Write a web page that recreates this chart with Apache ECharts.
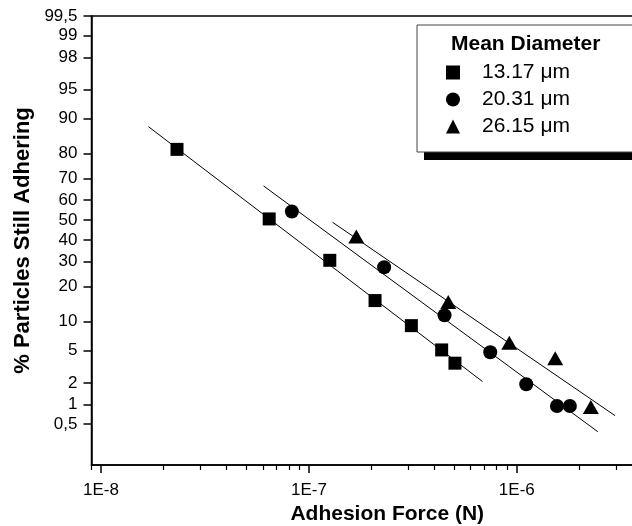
<!DOCTYPE html>
<html><head><meta charset="utf-8">
<script src="https://cdn.jsdelivr.net/npm/echarts@6/dist/echarts.min.js"></script>
<style>html,body{margin:0;padding:0;background:#fff}#c{width:632px;height:526px}</style>
</head><body><div id="c"></div>
<script>
// ---- data ----
const seriesNames = ['13.17 \u03bcm', '20.31 \u03bcm', '26.15 \u03bcm'];
const sqForce = [2.32e-8, 6.44e-8, 1.26e-7, 2.08e-7, 3.11e-7, 4.35e-7, 5.04e-7];
const sqPct   = [81.4, 50.6, 30.6, 15.5, 9.15, 5.07, 3.55];
const ciForce = [8.28e-8, 2.30e-7, 4.49e-7, 7.45e-7, 1.11e-6, 1.56e-6, 1.80e-6];
const ciPct   = [54.3, 27.6, 11.5, 4.77, 1.92, 0.95, 0.95];
const trForce = [1.69e-7, 4.68e-7, 9.20e-7, 1.53e-6, 2.27e-6];
const trPct   = [41.8, 15.1, 6.1, 4.07, 0.92];
// fitted lines (end points)
const sqFitForce = [1.69e-8, 6.84e-7];
const sqFitPct   = [88.1, 2.08];
const ciFitForce = [6.05e-8, 2.45e-6];
const ciFitPct   = [66.7, 0.38];
const trFitForce = [1.30e-7, 2.97e-6];
const trFitPct   = [48.9, 0.68];
// axis ticks
const yTickPct    = [0.5, 1, 2, 5, 10, 20, 30, 40, 50, 60, 70, 80, 90, 95, 98, 99, 99.5];
const yTickLabels = ['0,5','1','2','5','10','20','30','40','50','60','70','80','90','95','98','99','99,5'];
const yRangePct   = [0.1, 99.5];
const xMajorExp   = [-8, -7, -6];
const xMinorMult  = [2, 3, 4, 5, 6, 7, 8, 9];
const xRange      = [9e-9, 6.3e-6];

// ---- scales ----
function probit(p) {
  const a=[-3.969683028665376e+01,2.209460984245205e+02,-2.759285104469687e+02,1.383577518672690e+02,-3.066479806614716e+01,2.506628277459239e+00];
  const b=[-5.447609879822406e+01,1.615858368580409e+02,-1.556989798598866e+02,6.680131188771972e+01,-1.328068155288572e+01];
  const c=[-7.784894002430293e-03,-3.223964580411365e-01,-2.400758277161838e+00,-2.549732539343734e+00,4.374664141464968e+00,2.938163982698783e+00];
  const d=[7.784695709041462e-03,3.224671290700398e-01,2.445134137142996e+00,3.754408661907416e+00];
  const pl=0.02425, ph=1-pl; let q,r;
  if(p<pl){q=Math.sqrt(-2*Math.log(p));return (((((c[0]*q+c[1])*q+c[2])*q+c[3])*q+c[4])*q+c[5])/((((d[0]*q+d[1])*q+d[2])*q+d[3])*q+1);}
  if(p<=ph){q=p-0.5;r=q*q;return (((((a[0]*r+a[1])*r+a[2])*r+a[3])*r+a[4])*r+a[5])*q/(((((b[0]*r+b[1])*r+b[2])*r+b[3])*r+b[4])*r+1);}
  q=Math.sqrt(-2*Math.log(1-p));return -(((((c[0]*q+c[1])*q+c[2])*q+c[3])*q+c[4])*q+c[5])/((((d[0]*q+d[1])*q+d[2])*q+d[3])*q+1);
}
const py = pct => probit(pct / 100);
const lx = v => Math.log10(v);
const pts = (xs, ps) => xs.map((x, i) => [lx(x), py(ps[i])]);

const yTickVals = yTickPct.map(py);
const xMinorVals = [];
[-9, -8, -7, -6].forEach(e => xMinorMult.forEach(m => xMinorVals.push(lx(m * Math.pow(10, e)))));

const FONT = 'Liberation Sans, Arial, sans-serif';
const chart = echarts.init(document.getElementById('c'), null, {renderer: 'canvas'});
const xMin = lx(xRange[0]) - 0.00005, xMax = lx(xRange[1]);

const scatterBase = {type: 'scatter', itemStyle: {color: '#000', opacity: 1}, symbolKeepAspect: true, z: 5};
const lineBase = {type: 'line', showSymbol: false, symbol: 'none', silent: true,
  lineStyle: {color: '#000', width: 1}, itemStyle: {color: '#000'}, z: 3};

chart.setOption({
  animation: false,
  backgroundColor: '#fff',
  grid: {left: 91.5, top: 16, bottom: 61, right: -51, show: true, containLabel: false,
    outerBoundsMode: 'none',
    borderColor: '#000', borderWidth: 1.5, backgroundColor: 'transparent'},
  graphic: [{type: 'rect', z: 1, silent: true,
    shape: {x: 424, y: 33, width: 300, height: 127}, style: {fill: '#000'}}],
  title: {text: 'Mean Diameter', left: 451, top: 34, padding: 0,
    textStyle: {fontFamily: FONT, fontWeight: 'bold', fontSize: 21, color: '#000'}, z: 20},
  legend: {
    data: seriesNames, orient: 'vertical', left: 417, top: 25,
    padding: [34, 200, 12, 29], itemGap: 0, itemWidth: 14, itemHeight: 14,
    symbolKeepAspect: true,
    backgroundColor: '#fff', borderColor: '#444', borderWidth: 1,
    textStyle: {fontFamily: FONT, fontSize: 21, color: '#000', lineHeight: 27, padding: [0, 0, 0, 17]},
    itemStyle: {color: '#000'}, selectedMode: false, z: 10
  },
  xAxis: [{
    type: 'value', position: 'bottom', min: xMin, max: xMax,
    axisLine: {show: true, onZero: false, lineStyle: {color: '#000', width: 1.5}},
    axisTick: {show: true, inside: false, length: 8, customValues: xMajorExp, lineStyle: {color: '#000', width: 1.5}},
    axisLabel: {customValues: xMajorExp, margin: 17, fontFamily: FONT, fontSize: 17, color: '#000',
      formatter: v => '1E' + Math.round(v)},
    splitLine: {show: false},
    name: 'Adhesion Force (N)', nameLocation: 'middle', nameGap: 38,
    nameTextStyle: {fontFamily: FONT, fontWeight: 'bold', fontSize: 21, color: '#000'}
  }, {
    type: 'value', position: 'bottom', min: xMin, max: xMax, offset: 0,
    axisLine: {show: false, onZero: false},
    axisTick: {show: true, inside: false, length: 5, customValues: xMinorVals, lineStyle: {color: '#000', width: 1.2}},
    axisLabel: {show: false}, splitLine: {show: false}
  }],
  yAxis: {
    type: 'value', min: py(yRangePct[0]), max: py(yRangePct[1]),
    axisLine: {show: true, onZero: false, lineStyle: {color: '#000', width: 1.5}},
    axisTick: {show: true, inside: false, length: 8, customValues: yTickVals, lineStyle: {color: '#000', width: 1.5}},
    axisLabel: {customValues: yTickVals, margin: 14, fontFamily: FONT, fontSize: 17, color: '#000',
      formatter: v => {
        let best = 0;
        yTickVals.forEach((t, i) => { if (Math.abs(t - v) < Math.abs(yTickVals[best] - v)) best = i; });
        return yTickLabels[best];
      }},
    splitLine: {show: false},
    name: '% Particles Still Adhering', nameLocation: 'middle', nameGap: 55,
    nameTextStyle: {fontFamily: FONT, fontWeight: 'bold', fontSize: 22, color: '#000'}
  },
  series: [
    Object.assign({}, lineBase, {name: 'fit1', data: pts(sqFitForce, sqFitPct)}),
    Object.assign({}, lineBase, {name: 'fit2', data: pts(ciFitForce, ciFitPct)}),
    Object.assign({}, lineBase, {name: 'fit3', data: pts(trFitForce, trFitPct)}),
    Object.assign({}, scatterBase, {name: seriesNames[0], symbol: 'rect', symbolSize: 13, data: pts(sqForce, sqPct)}),
    Object.assign({}, scatterBase, {name: seriesNames[1], symbol: 'circle', symbolSize: 14, data: pts(ciForce, ciPct)}),
    Object.assign({}, scatterBase, {name: seriesNames[2], symbol: 'triangle', symbolSize: [16, 14], data: pts(trForce, trPct)})
  ]
});
</script></body></html>
